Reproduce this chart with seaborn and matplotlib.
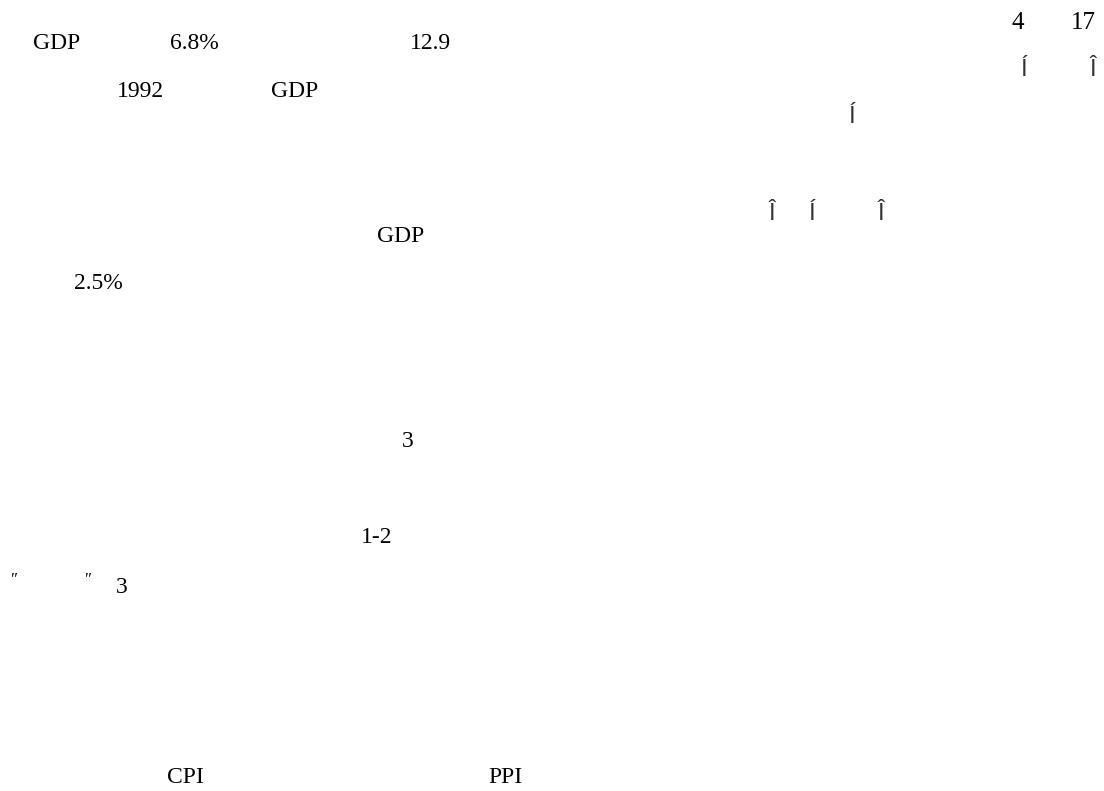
import seaborn as sns
import matplotlib.pyplot as plt

# Text fragments left on the page (Latin parts only)
labels = ["GDP", "6.8%", "12.9", "1992", "GDP", "GDP", "2.5%", "3", "1-2", "3", "CPI", "PPI"]
label_x = [57, 194, 430, 140, 295, 401, 98, 408, 377, 122, 185, 505]
label_y = [49, 49, 49, 97, 97, 242, 289, 447, 543, 593, 783, 783]

# date in the top right corner
date_labels = ["4", "17"]
date_x = [1018, 1083]
date_y = [29, 29]

# stray accented marks
marks = ["Í", "Î", "Í", "Î", "Í", "Î"]
mark_x = [1024, 1093, 852, 772, 812, 881]
mark_y = [76, 76, 123, 220, 220, 220]

quotes = ["″", "″"]
quote_x = [12, 86]
quote_y = [584, 584]

sns.set_theme(style="white")
plt.rcParams['font.family'] = ['Liberation Serif', 'DejaVu Serif']

fig, ax = plt.subplots(figsize=(11.04, 7.91), dpi=100)
fig.subplots_adjust(0, 0, 1, 1)
ax.set_xlim(0, 1104)
ax.set_ylim(791, 0)
ax.axis('off')

for t, x, y in zip(labels, label_x, label_y):
    ax.text(x, y, t, ha='center', va='baseline', fontsize=17, color='black')

for t, x, y in zip(date_labels, date_x, date_y):
    ax.text(x, y, t, ha='center', va='baseline', fontsize=18, color='black')

for t, x, y in zip(marks, mark_x, mark_y):
    ax.text(x, y, t, ha='center', va='baseline', fontsize=17, color='#333333',
            family=['Liberation Sans', 'DejaVu Sans'])

for t, x, y in zip(quotes, quote_x, quote_y):
    ax.text(x, y, t, ha='center', va='baseline', fontsize=12, color='black', style='italic')

fig.savefig('out.png', dpi=100)
